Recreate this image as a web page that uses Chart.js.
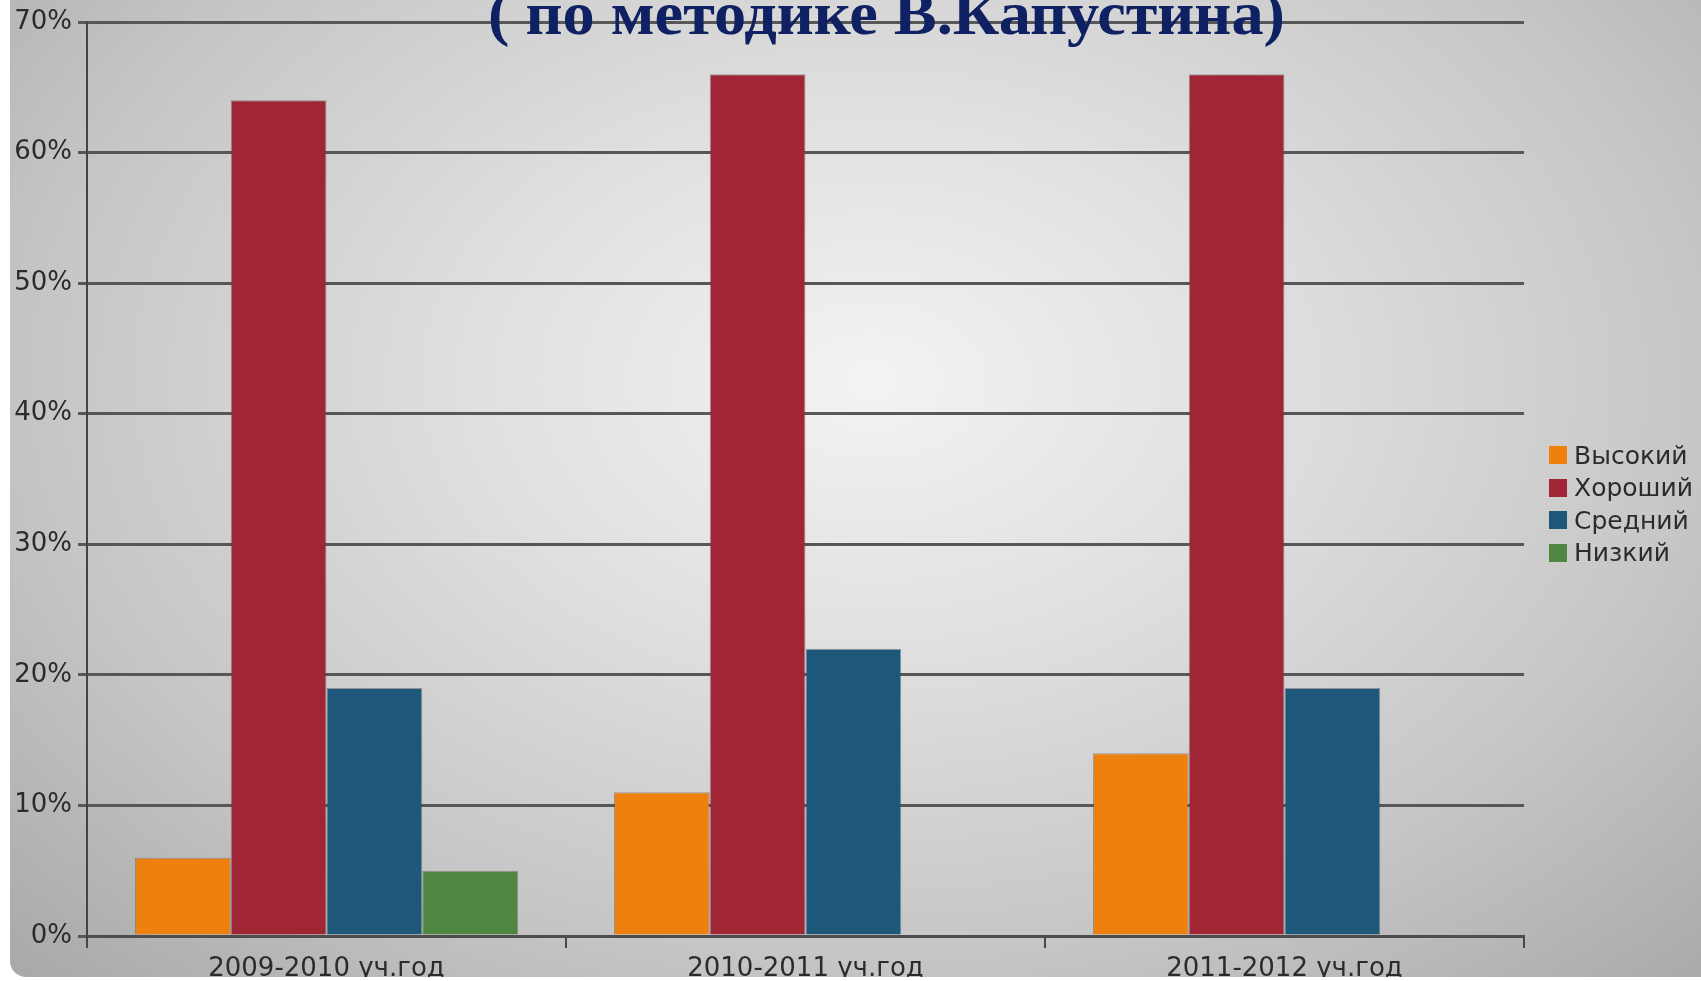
<!DOCTYPE html>
<html lang="ru">
<head>
<meta charset="utf-8">
<script src="https://cdn.jsdelivr.net/npm/chart.js@4.4.1/dist/chart.umd.min.js"></script>
<style>
  html, body { margin: 0; padding: 0; background: #fff; width: 1701px; height: 981px; overflow: hidden; }
  #fon {
    position: absolute; left: 10px; top: 0; width: 1691px; height: 977px;
    border-bottom-left-radius: 16px;
    background: radial-gradient(ellipse farthest-corner at 51% 39%, #f3f3f3 0%, #e0e0e0 32%, #c6c6c6 68%, #a8a8a8 100%);
  }
  #holder { position: absolute; left: 0; top: 0; width: 1701px; height: 977px; }
  #legenda { position: absolute; left: 1549px; top: 439px; font-family: "DejaVu Sans", sans-serif; font-size: 25px; color: #2b2b2b; }
  .item { height: 32.5px; display: flex; align-items: center; }
  .kvadrat { width: 18px; height: 18px; margin-right: 7px; }
</style>
</head>
<body>
<div id="fon"></div>
<div id="holder"><canvas id="grafico" width="1701" height="977"></canvas></div>
<div id="legenda"></div>
<script>
// dados do gráfico
const anos = ['2009-2010 уч.год', '2010-2011 уч.год', '2011-2012 уч.год'];
const niveis = ['Высокий', 'Хороший', 'Средний', 'Низкий'];
const vysokiy = [6, 11, 14];
const khoroshiy = [64, 66, 66];
const sredniy = [19, 22, 19];
const nizkiy = [5, null, null];
const rotulosY = ['0%', '10%', '20%', '30%', '40%', '50%', '60%', '70%'];
const titulo = '( по методике В.Капустина)';
const cores = ['#ee800e', '#a02636', '#1d587a', '#4f8742'];

const series = [vysokiy, khoroshiy, sredniy, nizkiy];

// legenda em HTML
const legenda = document.getElementById('legenda');
niveis.forEach((nome, i) => {
  const item = document.createElement('div');
  item.className = 'item';
  const q = document.createElement('span');
  q.className = 'kvadrat';
  q.style.background = cores[i];
  item.appendChild(q);
  item.appendChild(document.createTextNode(nome));
  legenda.appendChild(item);
});

// título desenhado por cima da grade
const tituloPlugin = {
  id: 'tituloPlugin',
  afterDraw(chart) {
    const ctx = chart.ctx;
    ctx.save();
    ctx.font = 'bold 62px "Liberation Serif", serif';
    ctx.fillStyle = '#0f2162';
    ctx.textBaseline = 'alphabetic';
    const w = ctx.measureText(titulo).width;
    ctx.translate(488, 34);
    ctx.scale(797 / w, 1);
    ctx.fillText(titulo, 0, 0);
    ctx.restore();
  }
};

const ctx = document.getElementById('grafico').getContext('2d');
new Chart(ctx, {
  type: 'bar',
  data: {
    labels: anos,
    datasets: niveis.map((nome, i) => ({
      label: nome,
      data: series[i],
      backgroundColor: cores[i],
      borderColor: 'rgba(70,70,70,0.45)',
      borderWidth: 1,
      categoryPercentage: 0.8,
      barPercentage: 1
    }))
  },
  options: {
    responsive: false,
    animation: false,
    devicePixelRatio: 1,
    layout: { padding: { left: 0, right: 177, top: 22, bottom: 0 } },
    plugins: {
      legend: { display: false },
      tooltip: { enabled: false }
    },
    scales: {
      x: {
        grid: { display: true, drawOnChartArea: false, offset: true, tickLength: 12, color: '#474747', lineWidth: 2 },
        border: { display: true, color: '#4d4d4d', width: 3 },
        ticks: { color: '#2b2b2b', padding: 6, font: { family: 'DejaVu Sans', size: 26 } },
        afterFit(scale) { scale.height = 41; }
      },
      y: {
        min: 0,
        max: 70,
        ticks: {
          stepSize: 10,
          color: '#2b2b2b',
          padding: 6,
          font: { family: 'DejaVu Sans', size: 26 },
          callback: (v, i) => rotulosY[i]
        },
        grid: { color: '#575757', lineWidth: 3, tickLength: 9 },
        border: { display: true, color: '#444', width: 2 },
        afterFit(scale) { scale.width = 87; }
      }
    }
  },
  plugins: [tituloPlugin]
});
</script>
</body>
</html>
